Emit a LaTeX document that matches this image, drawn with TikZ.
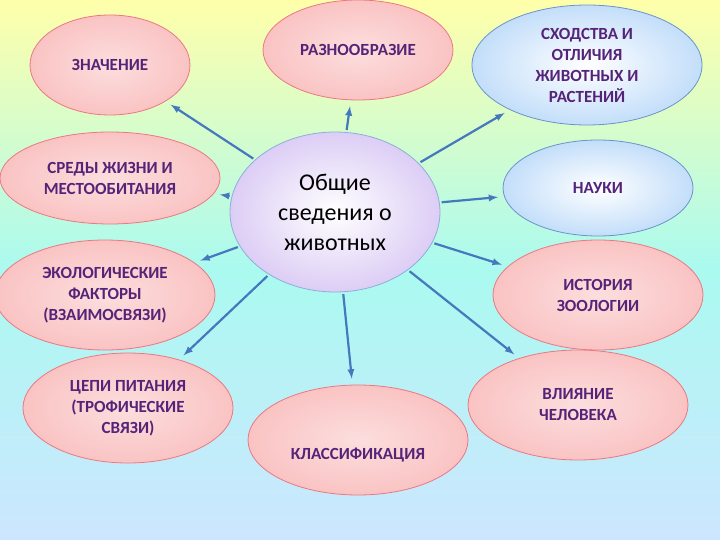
\documentclass[tikz,border=0pt]{standalone}
\usepackage{fontspec}
\setmainfont{Carlito}
\usetikzlibrary{shapes.geometric}
\definecolor{txt}{RGB}{85,35,120}
\definecolor{pinkf}{RGB}{250,195,195}
\definecolor{pinkd}{RGB}{235,120,130}
\definecolor{bluef}{RGB}{195,222,250}
\definecolor{lav}{RGB}{220,205,245}
\definecolor{arr}{RGB}{70,120,190}
\tikzset{
 el/.style={ellipse,draw=pinkd,line width=0.8pt,inner color=pinkf!55!white,outer color=pinkf,text=txt,font=\bfseries\fontsize{17}{21}\selectfont,align=center,inner sep=0pt},
 bel/.style={el,draw=arr!80,inner color=white,outer color=bluef},
 con/.style={draw=arr,line width=2.2pt,-latex,shorten >=6pt,shorten <=2pt}
}
\begin{document}
\begin{tikzpicture}[x=1pt,y=-1pt]
\shade[top color={rgb,255:red,255;green,255;blue,170},bottom color={rgb,255:red,170;green,250;blue,240}] (0,0) rectangle (720,270);
\shade[top color={rgb,255:red,170;green,250;blue,240},bottom color={rgb,255:red,205;green,230;blue,255}] (0,270) rectangle (720,540);
\useasboundingbox (0,0) rectangle (720,540);
\node[el,minimum width=160,minimum height=100] (a) at (110,65) {ЗНАЧЕНИЕ};
\node[el,minimum width=190,minimum height=100] (b) at (358,50) {РАЗНООБРАЗИЕ};
\node[bel,minimum width=230,minimum height=120] (c) at (587,65) {СХОДСТВА И\\ОТЛИЧИЯ\\ЖИВОТНЫХ И\\РАСТЕНИЙ};
\node[el,minimum width=220,minimum height=92] (d) at (110,178) {СРЕДЫ ЖИЗНИ И\\МЕСТООБИТАНИЯ};
\node[ellipse,draw=arr!60,line width=0.8pt,inner color=white,outer color=lav,minimum width=210,minimum height=160,align=center,font=\fontsize{24}{30}\selectfont] (m) at (335,212) {Общие\\сведения о\\животных};
\node[bel,minimum width=190,minimum height=96] (e) at (598,188) {НАУКИ};
\node[el,minimum width=220,minimum height=110] (f) at (105,295) {ЭКОЛОГИЧЕСКИЕ\\ФАКТОРЫ\\(ВЗАИМОСВЯЗИ)};
\node[el,minimum width=210,minimum height=110] (g) at (598,295) {ИСТОРИЯ\\ЗООЛОГИИ};
\node[el,minimum width=210,minimum height=110] (h) at (128,408) {ЦЕПИ ПИТАНИЯ\\(ТРОФИЧЕСКИЕ\\СВЯЗИ)};
\node[el,minimum width=220,minimum height=110] (i) at (358,440) {\\[20pt]КЛАССИФИКАЦИЯ};
\node[el,minimum width=220,minimum height=110] (j) at (578,405) {ВЛИЯНИЕ\\ЧЕЛОВЕКА};
\foreach \t in {a,b,c,d,e,f,g,h,i,j} \draw[con] (m) -- (\t);
\end{tikzpicture}
\end{document}
